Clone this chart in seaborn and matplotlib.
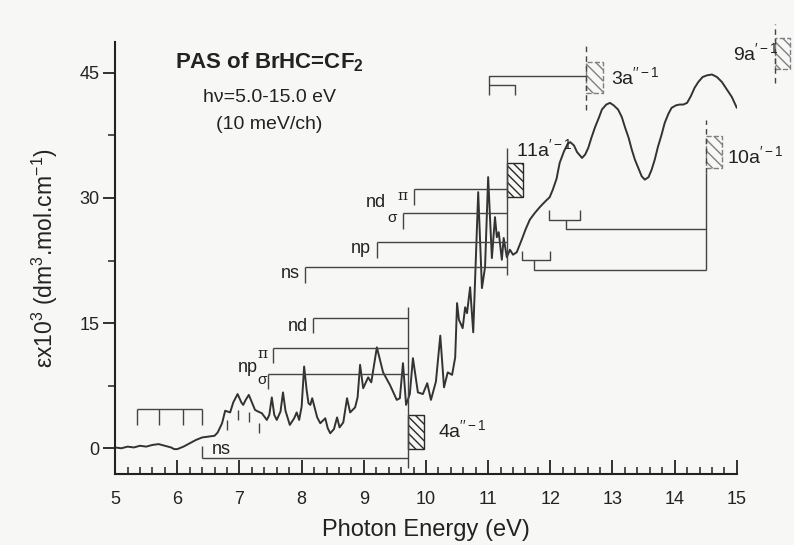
import numpy as np
import pandas as pd
import matplotlib
matplotlib.use("Agg")
import matplotlib.pyplot as plt
from matplotlib.patches import Rectangle
import seaborn as sns

# ---------------- data ----------------
energy = [5.00, 5.10, 5.20, 5.30, 5.40, 5.50, 5.60, 5.70, 5.80, 5.90, 5.95, 6.00,
          6.10, 6.20, 6.30, 6.40, 6.50, 6.60, 6.65, 6.72, 6.77, 6.85, 6.90, 6.97,
          7.03, 7.06, 7.10, 7.15, 7.20, 7.25, 7.30, 7.36, 7.44, 7.48, 7.52, 7.56,
          7.60, 7.66, 7.70, 7.74, 7.81, 7.88, 7.92, 7.96, 8.00, 8.04, 8.08, 8.11,
          8.14, 8.17, 8.25, 8.30, 8.38, 8.42, 8.46, 8.52, 8.57, 8.61, 8.67, 8.73,
          8.78, 8.86, 8.90, 8.94, 8.99, 9.07, 9.12, 9.21, 9.31, 9.42, 9.53, 9.58,
          9.63, 9.68, 9.74, 9.79, 9.87, 9.95, 10.02, 10.08, 10.16, 10.23, 10.29,
          10.35, 10.42, 10.47, 10.50, 10.53, 10.59, 10.63, 10.66, 10.71, 10.76,
          10.84, 10.90, 10.95, 11.00, 11.06, 11.11, 11.14, 11.17, 11.22, 11.25,
          11.30, 11.35, 11.40, 11.46, 11.54, 11.60, 11.67, 11.75, 11.83, 11.92,
          11.99, 12.04, 12.10, 12.15, 12.22, 12.28, 12.32, 12.38, 12.43, 12.51,
          12.56, 12.61, 12.66, 12.72, 12.78, 12.83, 12.90, 12.96, 13.02, 13.09,
          13.15, 13.20, 13.26, 13.31, 13.36, 13.41, 13.47, 13.52, 13.58, 13.63,
          13.68, 13.73, 13.79, 13.84, 13.90, 13.95, 14.02, 14.08, 14.14, 14.20,
          14.26, 14.32, 14.38, 14.45, 14.52, 14.60, 14.68, 14.76, 14.84, 14.92,
          15.00]
epsilon = [0.1, 0.0, 0.2, 0.1, 0.3, 0.2, 0.4, 0.5, 0.3, 0.1, -0.1, -0.1,
           0.2, 0.6, 1.0, 1.3, 1.4, 1.5, 1.9, 3.0, 4.5, 4.3, 5.5, 6.5,
           5.5, 5.2, 5.8, 6.4, 5.5, 4.6, 4.4, 4.2, 3.4, 4.0, 6.1, 4.0,
           3.4, 4.4, 6.7, 4.5, 2.8, 3.6, 4.3, 3.4, 5.0, 9.8, 7.0, 5.4,
           5.2, 6.0, 3.7, 3.0, 3.6, 2.4, 1.8, 2.3, 3.7, 2.5, 3.1, 6.0,
           4.3, 4.9, 6.1, 10.0, 7.2, 8.5, 7.9, 12.1, 9.1, 7.6, 5.8, 6.0,
           10.2, 5.2, 6.5, 10.8, 6.7, 6.5, 7.8, 5.8, 8.0, 13.5, 7.3,
           9.1, 8.8, 10.9, 17.4, 15.4, 14.4, 16.9, 16.2, 19.3, 13.9,
           30.7, 19.2, 21.7, 32.5, 22.8, 27.7, 25.3, 25.9, 22.6, 25.2,
           22.9, 23.8, 23.2, 23.5, 25.0, 26.2, 27.4, 28.2, 28.9, 29.6,
           30.1, 31.0, 32.3, 34.2, 35.6, 36.5, 36.7, 36.3, 35.5, 34.8,
           35.2, 36.0, 37.2, 38.5, 39.6, 40.6, 41.2, 41.4, 41.1, 40.6,
           39.7, 38.5, 37.2, 35.8, 34.6, 33.7, 32.6, 32.2, 32.5, 33.4,
           34.6, 36.1, 37.6, 39.0, 40.1, 40.8, 41.1, 41.2, 41.2, 41.4,
           42.2, 43.2, 43.9, 44.5, 44.7, 44.8, 44.5, 43.9, 43.0, 42.1,
           40.8]

# ionisation limits (eV)
ip_4a, ip_11a, ip_3a, ip_10a, ip_9a = 9.71, 11.30, 12.57, 14.50, 15.61

# Rydberg series converging to 4a''-1 : (label, series start eV, level)
low_names = ["ns", "npσ", "npπ", "nd"]
low_start = [6.40, 7.46, 7.54, 8.18]
low_level = [-1.2, 8.9, 12.0, 15.6]
# Rydberg series converging to 11a'-1
up_names = ["ns", "np", "ndσ", "ndπ"]
up_start = [8.05, 9.21, 9.63, 9.81]
up_level = [21.7, 24.7, 28.2, 31.1]
# vibrational progression near 5.3-6.4 eV
vib_comb = [5.35, 5.71, 6.09, 6.40]
vib_ticks = [6.80, 6.98, 7.15, 7.31]
vib_tick_lo = [2.2, 3.4, 3.1, 1.8]

# ---------------- style ----------------
sns.set_style("ticks")
plt.rcParams["font.family"] = ["Liberation Sans", "DejaVu Sans"]
plt.rcParams["mathtext.fontset"] = "custom"
plt.rcParams["mathtext.rm"] = "Liberation Sans"
plt.rcParams["mathtext.it"] = "Liberation Sans:italic"
plt.rcParams["mathtext.bf"] = "Liberation Sans:bold"

ink = "#222222"
ann = "#444444"
bg = "#f7f7f6"

fig = plt.figure(figsize=(7.94, 5.45), dpi=100, facecolor=bg)
ax = fig.add_axes([0.145, 0.130, 0.783, 0.793])
ax.set_facecolor(bg)

df = pd.DataFrame({"E": energy, "eps": epsilon})
sns.lineplot(data=df, x="E", y="eps", ax=ax, color="#333333", lw=1.4, sort=False)

ax.set_xlim(5, 15)
ax.set_ylim(-3.1, 48.7)
sns.despine(ax=ax)
for s in ["left", "bottom"]:
    ax.spines[s].set_linewidth(1.5)
    ax.spines[s].set_color(ink)

ax.set_xticks(range(5, 16))
ax.set_xticks(np.arange(5, 15.01, 0.2), minor=True)
ax.set_yticks([0, 15, 30, 45])
ax.set_yticks([7.5, 22.5, 37.5], minor=True)
ax.tick_params(axis="x", which="major", direction="in", length=10, width=1.3,
               labelsize=13, pad=12, colors=ink)
ax.tick_params(axis="x", which="minor", direction="in", length=5, width=1.1, colors=ink)
ax.tick_params(axis="y", which="major", direction="out", length=9, width=1.3,
               labelsize=13, pad=2, colors=ink)
ax.tick_params(axis="y", which="minor", direction="out", length=5, width=1.1, colors=ink)

ax.set_xlabel("Photon Energy (eV)", fontsize=17, color=ink, labelpad=8)
ax.set_ylabel(r"εx10$^3$ (dm$^3$.mol.cm$^{-1}$)", fontsize=16.5, color=ink, labelpad=14)
ax.set_ylim(-3.1, 48.7)


def seg(xs, ys, ls="-", lw=1.0, color=ann):
    ax.plot(xs, ys, ls=ls, lw=lw, color=color, clip_on=False, solid_capstyle="butt")


# vibrational comb
seg([vib_comb[0], vib_comb[-1]], [4.7, 4.7])
for x in vib_comb:
    seg([x, x], [2.8, 4.7])
for x, lo in zip(vib_ticks, vib_tick_lo):
    seg([x, x], [lo, lo + 1.2])

# lower series -> 4a''
seg([ip_4a, ip_4a], [-2.4, 16.9])
for nm, x0, lev in zip(low_names, low_start, low_level):
    seg([x0, ip_4a], [lev, lev])
    if nm == "ns":
        seg([x0, x0], [lev, lev + 1.5])
    else:
        seg([x0, x0], [lev, lev - 1.8])
ax.text(6.55, -0.2, "ns", fontsize=13, color=ink, ha="left", va="center")
ax.text(7.30, 9.7, "np", fontsize=13, color=ink, ha="right", va="center")
ax.text(7.36, 8.2, "σ", fontsize=11, color=ink, ha="center", va="center")
ax.text(7.37, 11.3, "π", fontsize=11, color=ink, ha="center", va="center",
        family="DejaVu Serif")
ax.text(8.10, 14.6, "nd", fontsize=13, color=ink, ha="right", va="center")

# upper series -> 11a'
seg([ip_11a, ip_11a], [20.8, 36.0])
for x0, lev in zip(up_start, up_level):
    seg([x0, ip_11a], [lev, lev])
    seg([x0, x0], [lev, lev - 1.9])
ax.text(7.97, 21.0, "ns", fontsize=13, color=ink, ha="right", va="center")
ax.text(9.12, 24.0, "np", fontsize=13, color=ink, ha="right", va="center")
ax.text(9.45, 27.6, "σ", fontsize=11, color=ink, ha="center", va="center")
ax.text(9.35, 29.4, "nd", fontsize=13, color=ink, ha="right", va="center")
ax.text(9.63, 30.2, "π", fontsize=11, color=ink, ha="center", va="center",
        family="DejaVu Serif")

# brackets -> 10a'
seg([11.54, 11.54, 11.99, 11.99], [23.6, 22.6, 22.6, 23.6])
seg([11.74, 11.74, ip_10a], [22.6, 21.4, 21.4])
seg([11.98, 11.98, 12.48, 12.48], [28.6, 27.4, 27.4, 28.6])
seg([12.25, 12.25, ip_10a], [27.4, 26.3, 26.3])
seg([ip_10a, ip_10a], [21.4, 33.0])
seg([ip_10a, ip_10a], [33.0, 39.4], ls=(0, (4, 3)))

# bracket -> 3a''
seg([11.01, 11.01, ip_3a], [42.4, 44.6, 44.6])
seg([11.01, 11.43, 11.43], [43.6, 43.6, 42.4])
seg([ip_3a, ip_3a], [40.6, 48.4], ls=(0, (4, 3)))

# 9a' limit (outside axes)
seg([ip_9a, ip_9a], [43.8, 50.8], ls=(0, (4, 3)))

# hatched boxes
def box(x, y, w, h, dark):
    if dark:
        r = Rectangle((x, y), w, h, facecolor="none", edgecolor="#2a2a2a",
                      hatch="\\\\\\\\", lw=1.0, clip_on=False)
    else:
        r = Rectangle((x, y), w, h, facecolor="none", edgecolor="#808080",
                      hatch="\\\\\\", lw=1.0, ls="--", clip_on=False)
    ax.add_patch(r)

box(ip_4a, -0.1, 0.26, 4.1, True)
box(ip_11a, 30.1, 0.26, 4.1, True)
box(ip_3a, 42.6, 0.28, 3.7, False)
box(ip_10a, 33.6, 0.26, 3.8, False)
box(ip_9a, 45.4, 0.25, 3.8, False)

lab_kw = dict(fontsize=14, color=ink, ha="left", va="center", clip_on=False)
ax.text(10.20, 2.2, r"4a$^{\prime\prime-1}$", **lab_kw)
ax.text(11.45, 35.8, r"11a$^{\prime-1}$", **lab_kw)
ax.text(12.97, 44.5, r"3a$^{\prime\prime-1}$", **lab_kw)
ax.text(14.84, 35.0, r"10a$^{\prime-1}$", **lab_kw)
ax.text(14.94, 47.4, r"9a$^{\prime-1}$", **lab_kw)

# title block
ax.text(7.48, 46.3, r"PAS of BrHC=CF$_\mathbf{2}$", fontsize=16, fontweight="bold",
        color=ink, ha="center", va="center")
ax.text(7.48, 42.1, "hν=5.0-15.0 eV", fontsize=14, color=ink, ha="center", va="center")
ax.text(7.48, 38.8, "(10 meV/ch)", fontsize=14, color=ink, ha="center", va="center")

fig.savefig("out.png", dpi=100, facecolor=bg)
